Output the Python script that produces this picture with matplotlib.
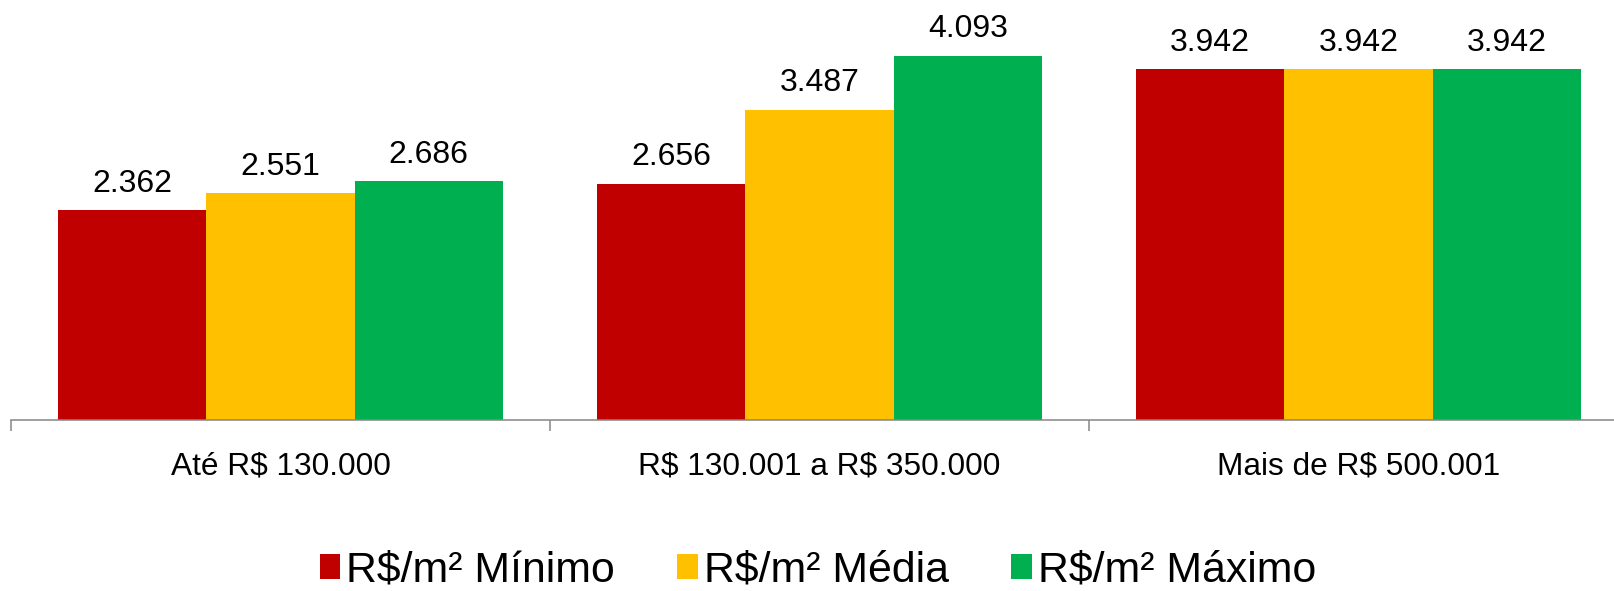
import numpy as np
import matplotlib
matplotlib.use("Agg")
import matplotlib.pyplot as plt

# data
categories = ["Até R$ 130.000", "R$ 130.001 a R$ 350.000", "Mais de R$ 500.001"]
series_names = ["R$/m² Mínimo", "R$/m² Média", "R$/m² Máximo"]
minimo = [2.362, 2.656, 3.942]
media = [2.551, 3.487, 3.942]
maximo = [2.686, 4.093, 3.942]
colors = ["#C00000", "#FFC000", "#00B050"]

plt.rcParams['font.family'] = ['Liberation Sans', 'DejaVu Sans']
plt.rcParams['text.parse_math'] = False  # keep the "$" signs literal

W, H = 1615, 591
fig = plt.figure(figsize=(W/100, H/100), dpi=100)
ax_left = 11/W
ax_bottom = 1 - 420/H
ax = fig.add_axes([ax_left, ax_bottom, 1 - ax_left, 1 - ax_bottom])

x = np.arange(len(categories))
bw = 0.275
for i, (vals, name, c) in enumerate(zip([minimo, media, maximo], series_names, colors)):
    bars = ax.bar(x + (i-1)*bw, vals, width=bw, color=c, label=name)
    ax.bar_label(bars, labels=[f"{v:.3f}" for v in vals], padding=8, fontsize=23)

# category width 539 px -> axes 1604 px wide
ax.set_xlim(-0.5, -0.5 + (W*(1-ax_left))/539)
ax.set_ylim(0, 4.717)

for s in ['top', 'right', 'left']:
    ax.spines[s].set_visible(False)
ax.spines['bottom'].set_color('#868686')
ax.spines['bottom'].set_linewidth(1.1)
ax.set_yticks([])

ax.set_xticks(x)
ax.set_xticklabels(categories, fontsize=22.8)
ax.tick_params(axis='x', which='major', length=0, pad=23)
ax.set_xticks([-0.5, 0.5, 1.5], minor=True)
ax.tick_params(axis='x', which='minor', length=8, width=1.1, color='#868686', direction='out')

leg = ax.legend(loc='center', bbox_to_anchor=(818/W, 1 - 571/H), bbox_transform=fig.transFigure,
                ncol=3, frameon=False, fontsize=30.8, handlelength=0.48, handleheight=0.53,
                handletextpad=0.15, columnspacing=1.45, borderpad=0, borderaxespad=0)

fig.savefig("out.png", dpi=100)
